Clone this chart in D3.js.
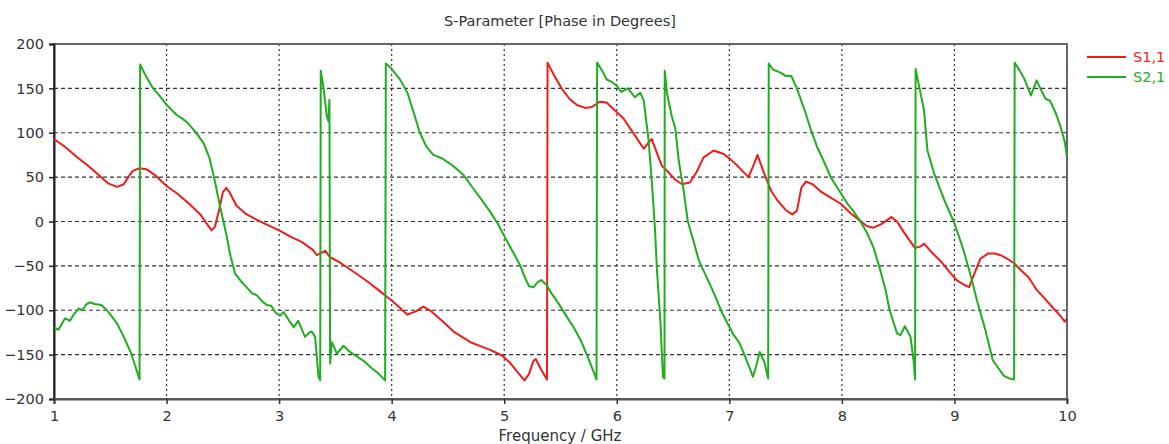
<!DOCTYPE html>
<html>
<head>
<meta charset="utf-8">
<script src="https://cdn.jsdelivr.net/npm/d3@7"></script>
<style>
  html, body { margin: 0; padding: 0; background: #fff; }
  svg { display: block; font-family: "DejaVu Sans", Verdana, sans-serif; }
</style>
</head>
<body>
<svg id="chart" width="1169" height="444"></svg>
<script>
const titleText = "S-Parameter [Phase in Degrees]";
const xLabel = "Frequency / GHz";
const seriesNames = ["S1,1", "S2,1"];
const xTicks = [1, 2, 3, 4, 5, 6, 7, 8, 9, 10];
const yTicks = [-200, -150, -100, -50, 0, 50, 100, 150, 200];

const freqS11 = [1.00,1.10,1.20,1.30,1.40,1.48,1.56,1.62,1.66,1.70,1.76,1.82,1.90,2.00,2.10,2.20,2.30,2.36,2.40,2.43,2.47,2.50,2.53,2.56,2.62,2.70,2.80,2.90,3.00,3.10,3.20,3.30,3.335,3.38,3.41,3.45,3.55,3.70,3.80,3.90,3.94,4.00,4.08,4.14,4.22,4.28,4.35,4.45,4.55,4.70,4.80,4.88,4.98,5.05,5.12,5.18,5.22,5.26,5.28,5.32,5.38,5.385,5.45,5.51,5.58,5.65,5.72,5.78,5.85,5.91,6.00,6.06,6.15,6.24,6.31,6.36,6.40,6.47,6.52,6.58,6.65,6.71,6.77,6.86,6.95,7.01,7.07,7.17,7.22,7.25,7.31,7.37,7.42,7.50,7.56,7.60,7.64,7.68,7.74,7.81,7.90,7.99,8.08,8.16,8.22,8.28,8.35,8.44,8.49,8.55,8.65,8.70,8.73,8.80,8.88,8.95,9.02,9.08,9.13,9.18,9.23,9.30,9.36,9.41,9.47,9.53,9.60,9.66,9.73,9.79,9.88,9.94,9.98,10.0];
const phaseS11 = [93,84,73,63,52,43,39,42,50,57,60,59,52,40,31,20,8,-3,-10,-6,15,33,38,33,18,9,2,-4,-10,-17,-23,-32,-38,-35,-33,-40,-47,-60,-69,-79,-83,-89,-98,-105,-101,-96,-101,-112,-124,-136,-141,-145,-151,-159,-170,-179,-172,-157,-155,-165,-178,179,163,150,138,131,128,129,135,134,123,116,99,82,93,76,63,54,47,42,44,56,72,80,76,70,63,50,65,75,54,35,25,13,8,12,38,45,42,34,27,20,9,1,-5,-7,-3,5,0,-12,-30,-28,-25,-35,-45,-56,-66,-71,-74,-58,-42,-36,-36,-38,-42,-47,-56,-63,-77,-85,-98,-106,-113,-109];

const freqS21 = [1.00,1.04,1.08,1.10,1.14,1.18,1.22,1.25,1.29,1.32,1.36,1.42,1.47,1.52,1.56,1.62,1.68,1.72,1.76,1.765,1.82,1.88,1.93,1.99,2.05,2.09,2.14,2.18,2.23,2.28,2.33,2.38,2.43,2.47,2.53,2.57,2.61,2.66,2.71,2.76,2.80,2.85,2.89,2.93,2.97,3.01,3.04,3.09,3.13,3.17,3.21,3.23,3.27,3.29,3.32,3.35,3.365,3.37,3.394,3.424,3.438,3.447,3.453,3.468,3.49,3.513,3.572,3.62,3.676,3.75,3.82,3.88,3.942,3.948,4.00,4.08,4.14,4.19,4.25,4.31,4.37,4.45,4.52,4.58,4.64,4.72,4.79,4.87,4.94,5.02,5.08,5.14,5.18,5.22,5.26,5.30,5.33,5.38,5.42,5.48,5.56,5.62,5.68,5.75,5.82,5.825,5.87,5.91,5.96,6.00,6.04,6.10,6.16,6.21,6.24,6.26,6.283,6.305,6.327,6.34,6.357,6.387,6.41,6.424,6.426,6.447,6.49,6.52,6.55,6.594,6.63,6.73,6.85,6.94,7.03,7.09,7.13,7.18,7.21,7.24,7.27,7.31,7.345,7.35,7.39,7.45,7.50,7.55,7.60,7.67,7.72,7.78,7.81,7.86,7.90,7.96,8.05,8.10,8.16,8.22,8.28,8.33,8.39,8.42,8.49,8.52,8.56,8.61,8.64,8.65,8.655,8.69,8.73,8.76,8.82,8.91,9.00,9.08,9.14,9.20,9.27,9.34,9.40,9.44,9.49,9.53,9.535,9.58,9.62,9.68,9.73,9.77,9.81,9.85,9.90,9.94,9.98,10.0];
const phaseS21 = [-120,-122,-113,-109,-112,-104,-98,-100,-93,-91,-93,-94,-100,-108,-115,-130,-147,-162,-178,177,163,150,143,133,125,120,116,112,105,97,88,72,45,20,-14,-40,-59,-67,-74,-81,-83,-90,-94,-95,-103,-106,-102,-112,-119,-112,-124,-130,-125,-124,-130,-175,-179,170,151,118,113,137,-160,-136,-142,-149,-140,-146,-151,-157,-165,-171,-179,178,172,159,145,125,100,84,75,71,65,59,52,38,26,12,-2,-21,-35,-49,-62,-73,-74,-68,-66,-72,-81,-92,-108,-120,-134,-155,-178,179,170,160,157,153,146,150,140,145,136,115,91,55,16,-10,-55,-111,-175,-177,170,144,118,105,69,35,1,-44,-77,-104,-126,-137,-149,-165,-175,-162,-147,-158,-177,178,171,168,164,164,150,125,105,84,76,62,50,38,20,12,1,-12,-29,-50,-78,-98,-126,-128,-118,-130,-160,-178,172,150,125,80,54,24,-2,-32,-59,-89,-120,-156,-167,-174,-177,-178,179,170,161,142,159,148,138,136,122,108,90,72];

const colors = ["#ee1c1c", "#1fae1f"];

const svg = d3.select("#chart");
const x = d3.scaleLinear().domain([1, 10]).range([54, 1067]);
const y = d3.scaleLinear().domain([-200, 200]).range([399, 44]);

// grid
const grid = svg.append("g");
grid.selectAll("line.h").data(yTicks.filter(v => v > -200 && v < 200)).enter().append("line")
  .attr("x1", x(1)).attr("x2", x(10)).attr("y1", d => y(d)).attr("y2", d => y(d))
  .attr("stroke", "#333").attr("stroke-width", 1.2).attr("stroke-dasharray", "4,3");
grid.selectAll("line.v").data(xTicks.filter(v => v > 1 && v < 10)).enter().append("line")
  .attr("x1", d => x(d)).attr("x2", d => x(d)).attr("y1", y(200)).attr("y2", y(-200))
  .attr("stroke", "#333").attr("stroke-width", 1.2).attr("stroke-dasharray", "2,3");

// frame
svg.append("rect").attr("x", x(1)).attr("y", y(200)).attr("width", x(10) - x(1)).attr("height", y(-200) - y(200))
  .attr("fill", "none").attr("stroke", "#666").attr("stroke-width", 2);

// axes
const yAxis = svg.append("g").attr("transform", `translate(${x(1)},0)`)
  .call(d3.axisLeft(y).tickValues(yTicks).tickSize(5).tickPadding(5).tickFormat(d3.format("d")));
yAxis.select(".domain").attr("stroke", "#222").attr("stroke-width", 2);
yAxis.selectAll(".tick line").attr("stroke", "#222").attr("stroke-width", 1.5);
yAxis.selectAll("text").attr("font-size", 14.5).attr("fill", "#333").attr("font-family", "DejaVu Sans");

const xAxis = svg.append("g").attr("transform", `translate(0,${y(-200)})`)
  .call(d3.axisBottom(x).tickValues(xTicks).tickSize(5).tickPadding(7).tickFormat(d3.format("d")));
xAxis.select(".domain").attr("stroke", "#555").attr("stroke-width", 2);
xAxis.selectAll(".tick line").attr("stroke", "#333").attr("stroke-width", 1.5);
xAxis.selectAll("text").attr("font-size", 14.5).attr("fill", "#333").attr("font-family", "DejaVu Sans");

// lines
svg.append("clipPath").attr("id", "clip").append("rect")
  .attr("x", x(1)).attr("y", y(200) - 2).attr("width", x(10) - x(1)).attr("height", y(-200) - y(200) + 4);
const line = d3.line().x(d => x(d[0])).y(d => y(d[1]));
const s11 = freqS11.map((f, i) => [f, phaseS11[i]]);
const s21 = freqS21.map((f, i) => [f, phaseS21[i]]);
const plot = svg.append("g").attr("clip-path", "url(#clip)");
plot.append("path").datum(s11).attr("d", line).attr("fill", "none")
  .attr("stroke", colors[0]).attr("stroke-width", 2).attr("stroke-linejoin", "round");
plot.append("path").datum(s21).attr("d", line).attr("fill", "none")
  .attr("stroke", colors[1]).attr("stroke-width", 2).attr("stroke-linejoin", "round");

// titles
svg.append("text").attr("x", 560).attr("y", 26).attr("text-anchor", "middle")
  .attr("font-size", 14.5).attr("fill", "#333").text(titleText);
svg.append("text").attr("x", 560).attr("y", 441).attr("text-anchor", "middle")
  .attr("font-size", 15).attr("fill", "#333").text(xLabel);

// legend
const legend = svg.append("g");
seriesNames.forEach((name, i) => {
  const ly = 57 + i * 20;
  legend.append("line").attr("x1", 1087).attr("x2", 1126).attr("y1", ly).attr("y2", ly)
    .attr("stroke", colors[i]).attr("stroke-width", 2);
  legend.append("text").attr("x", 1133).attr("y", ly + 5).attr("font-size", 14.5)
    .attr("fill", colors[i]).text(name);
});
</script>
</body>
</html>
